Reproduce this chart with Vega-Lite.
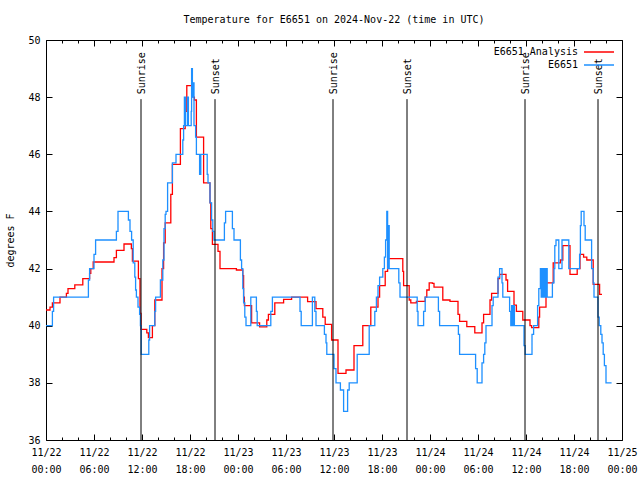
{
  "$schema": "https://vega.github.io/schema/vega-lite/v6.json",
  "width": 576,
  "height": 400,
  "autosize": "none",
  "padding": {"left": 46, "top": 40, "right": 18, "bottom": 40},
  "background": "white",
  "title": {"text": "Temperature for E6651 on 2024-Nov-22 (time in UTC)", "font": "DejaVu Sans Mono", "fontSize": 10, "fontWeight": "normal", "anchor": "middle", "offset": 10, "color": "black"},
  "config": {"view": {"stroke": "black", "strokeWidth": 1}, "font": "DejaVu Sans Mono"},
  "datasets": {
    "red": [
      {"h":0,"v":40.55},{"h":0.5,"v":40.65},{"h":0.8,"v":40.8},{"h":1.75,"v":41.0},{"h":2.55,"v":41.13},{"h":2.75,"v":41.3},{"h":3.6,"v":41.43},{"h":4.6,"v":41.65},{"h":5.45,"v":41.83},{"h":5.6,"v":42.0},{"h":5.9,"v":42.23},{"h":8.5,"v":42.38},{"h":8.8,"v":42.64},{"h":9.75,"v":42.86},{"h":10.67,"v":42.7},{"h":10.8,"v":42.26},{"h":11.55,"v":41.65},{"h":11.75,"v":40.43},{"h":11.875,"v":39.87},{"h":12.6,"v":39.75},{"h":12.8,"v":39.58},{"h":13.3,"v":40.0},{"h":13.6,"v":40.9},{"h":14.5,"v":42.0},{"h":14.7,"v":42.9},{"h":14.9,"v":43.6},{"h":15.6,"v":44.6},{"h":15.8,"v":45.65},{"h":16.8,"v":46.9},{"h":17.4,"v":47.5},{"h":17.6,"v":48.4},{"h":18.4,"v":48.0},{"h":18.55,"v":47.9},{"h":18.8,"v":46.6},{"h":19.7,"v":45.0},{"h":20.5,"v":44.3},{"h":20.6,"v":43.4},{"h":20.8,"v":42.85},{"h":21.5,"v":42.6},{"h":21.75,"v":42.0},{"h":23.8,"v":41.95},{"h":24.6,"v":41.75},{"h":24.7,"v":41.0},{"h":24.8,"v":40.7},{"h":25.7,"v":40.1},{"h":26.7,"v":39.96},{"h":27.6,"v":40.2},{"h":27.8,"v":40.4},{"h":28.6,"v":40.8},{"h":29.7,"v":40.92},{"h":30.7,"v":41.0},{"h":32.7,"v":40.84},{"h":33.75,"v":40.6},{"h":34.6,"v":40.3},{"h":34.9,"v":40.05},{"h":35.7,"v":39.5},{"h":36.5,"v":38.33},{"h":37.5,"v":38.45},{"h":38.5,"v":39.3},{"h":39.6,"v":40.0},{"h":40.6,"v":40.65},{"h":41.5,"v":41.0},{"h":41.7,"v":41.4},{"h":42.4,"v":41.9},{"h":42.7,"v":42.35},{"h":44.6,"v":41.9},{"h":44.7,"v":41.4},{"h":45.4,"v":40.9},{"h":45.6,"v":40.8},{"h":46.3,"v":40.85},{"h":47.4,"v":41.0},{"h":47.6,"v":41.25},{"h":47.9,"v":41.5},{"h":48.3,"v":41.48},{"h":48.5,"v":41.35},{"h":49.6,"v":40.9},{"h":50.5,"v":40.85},{"h":51.5,"v":40.4},{"h":51.7,"v":40.15},{"h":52.6,"v":39.97},{"h":53.6,"v":39.75},{"h":54.5,"v":40.1},{"h":54.7,"v":40.4},{"h":55.5,"v":40.9},{"h":55.7,"v":41.13},{"h":56.5,"v":41.65},{"h":56.7,"v":41.8},{"h":57.5,"v":41.6},{"h":57.7,"v":41.2},{"h":58.5,"v":40.72},{"h":58.8,"v":40.5},{"h":59.6,"v":40.2},{"h":60.5,"v":40.0},{"h":60.7,"v":39.93},{"h":61.6,"v":40.3},{"h":61.7,"v":40.65},{"h":62.5,"v":41.5},{"h":63.4,"v":42.2},{"h":64.3,"v":42.3},{"h":64.6,"v":42.8},{"h":65.5,"v":41.8},{"h":66.4,"v":42.0},{"h":66.75,"v":42.5},{"h":67.2,"v":42.4},{"h":67.6,"v":42.3},{"h":68.4,"v":41.45},{"h":69.2,"v":41.1},{"h":69.5,"v":41.1}
    ],
    "blue": [
      {"h":0,"v":40},{"h":0.8,"v":40.5},{"h":0.95,"v":41},{"h":5.3,"v":41.6},{"h":5.45,"v":42},{"h":6.0,"v":42.5},{"h":6.2,"v":43},{"h":8.8,"v":43.3},{"h":9.0,"v":44},{"h":10.3,"v":43.7},{"h":10.5,"v":43.3},{"h":10.7,"v":43},{"h":10.9,"v":42.2},{"h":11.1,"v":41.7},{"h":11.2,"v":41.25},{"h":11.3,"v":41},{"h":11.5,"v":40.65},{"h":11.7,"v":40.4},{"h":11.8,"v":40},{"h":11.9,"v":39},{"h":12.85,"v":39.5},{"h":12.95,"v":40},{"h":13.6,"v":40.5},{"h":13.7,"v":41},{"h":14.3,"v":41.6},{"h":14.6,"v":42.3},{"h":14.75,"v":43.4},{"h":14.9,"v":43.9},{"h":15.0,"v":44},{"h":15.2,"v":45},{"h":15.8,"v":45.7},{"h":16.25,"v":46},{"h":17.1,"v":46.5},{"h":17.2,"v":47},{"h":17.3,"v":48},{"h":17.45,"v":47},{"h":17.7,"v":48},{"h":17.8,"v":47},{"h":18.15,"v":47.5},{"h":18.2,"v":49},{"h":18.3,"v":48},{"h":18.4,"v":48.5},{"h":18.5,"v":47},{"h":18.7,"v":46.6},{"h":18.8,"v":46},{"h":19.2,"v":45.3},{"h":19.35,"v":46},{"h":20.15,"v":45.3},{"h":20.25,"v":45},{"h":20.5,"v":44.3},{"h":20.7,"v":43.7},{"h":20.85,"v":43.3},{"h":21.0,"v":43},{"h":22.3,"v":43.6},{"h":22.45,"v":44},{"h":23.3,"v":43.4},{"h":23.5,"v":43},{"h":24.3,"v":42.3},{"h":24.45,"v":42},{"h":24.6,"v":41.3},{"h":24.7,"v":40.8},{"h":24.85,"v":40.3},{"h":25.0,"v":40},{"h":25.6,"v":41},{"h":26.3,"v":40.5},{"h":26.4,"v":40},{"h":28.1,"v":40.5},{"h":28.3,"v":41},{"h":31.75,"v":40.5},{"h":31.9,"v":40},{"h":33.3,"v":41},{"h":33.6,"v":40.5},{"h":33.75,"v":40},{"h":34.8,"v":39.7},{"h":35.0,"v":39.4},{"h":35.1,"v":39},{"h":36.0,"v":38.5},{"h":36.25,"v":38},{"h":36.8,"v":37.75},{"h":37.2,"v":37},{"h":37.7,"v":37.75},{"h":37.9,"v":38},{"h":38.9,"v":39},{"h":40.4,"v":40},{"h":41.1,"v":40.5},{"h":41.3,"v":41},{"h":41.5,"v":41.4},{"h":41.7,"v":41.7},{"h":42.1,"v":42},{"h":42.3,"v":42.4},{"h":42.45,"v":43},{"h":42.6,"v":44},{"h":42.7,"v":42},{"h":42.8,"v":43.5},{"h":42.9,"v":42},{"h":44.1,"v":41.5},{"h":44.25,"v":41},{"h":46.4,"v":40.5},{"h":46.5,"v":40},{"h":47.2,"v":40.5},{"h":47.4,"v":41},{"h":49.05,"v":40.5},{"h":49.2,"v":40},{"h":51.55,"v":39.7},{"h":51.7,"v":39},{"h":53.7,"v":38.5},{"h":53.9,"v":38},{"h":54.5,"v":38.7},{"h":54.7,"v":39},{"h":54.85,"v":39.4},{"h":55.0,"v":40},{"h":55.75,"v":40.7},{"h":55.9,"v":41},{"h":56.5,"v":41.7},{"h":56.7,"v":42},{"h":57.0,"v":41.5},{"h":57.1,"v":41},{"h":57.95,"v":40.5},{"h":58.1,"v":40},{"h":58.2,"v":40.7},{"h":58.3,"v":40},{"h":58.45,"v":40.7},{"h":58.55,"v":40},{"h":59.75,"v":39.3},{"h":59.9,"v":39},{"h":60.75,"v":39.7},{"h":60.95,"v":40},{"h":61.45,"v":40.7},{"h":61.6,"v":41.3},{"h":61.8,"v":42},{"h":61.9,"v":41},{"h":62.05,"v":42},{"h":62.15,"v":41},{"h":62.3,"v":42},{"h":62.4,"v":41},{"h":62.55,"v":42},{"h":62.65,"v":41},{"h":63.3,"v":41.5},{"h":63.5,"v":42},{"h":63.6,"v":42.8},{"h":63.75,"v":43},{"h":64.1,"v":42},{"h":64.5,"v":43},{"h":65.35,"v":42},{"h":66.7,"v":42.5},{"h":66.8,"v":43.5},{"h":66.9,"v":44},{"h":67.25,"v":43.5},{"h":67.4,"v":43},{"h":68.2,"v":42},{"h":68.4,"v":41.5},{"h":68.5,"v":41},{"h":69.0,"v":40.3},{"h":69.15,"v":40},{"h":69.35,"v":39.7},{"h":69.5,"v":39.4},{"h":69.65,"v":39.0},{"h":69.8,"v":38.6},{"h":70.0,"v":38},{"h":70.7,"v":38}
    ],
    "events": [
      {"h": 11.875, "label": "Sunrise"},
      {"h": 21.125, "label": "Sunset"},
      {"h": 35.875, "label": "Sunrise"},
      {"h": 45.125, "label": "Sunset"},
      {"h": 59.875, "label": "Sunrise"},
      {"h": 69.0, "label": "Sunset"}
    ]
  },
  "resolve": {"axis": {"x": "independent", "y": "independent"}},
  "layer": [
    {
      "data": {"name": "red"},
      "transform": [{"calculate": "'E6651 Analysis'", "as": "s"}],
      "mark": {"type": "line", "interpolate": "step-after", "strokeWidth": 1.3},
      "encoding": {
        "x": {"field": "h", "type": "quantitative", "scale": {"domain": [0, 72], "nice": false, "zero": false},
          "axis": {"orient": "bottom", "values": [0,2,4,6,8,10,12,14,16,18,20,22,24,26,28,30,32,34,36,38,40,42,44,46,48,50,52,54,56,58,60,62,64,66,68,70,72], "title": null, "domain": false, "grid": false, "tickColor": "black", "tickWidth": 1,
            "tickSize": {"condition": {"test": "datum.value % 6 === 0", "value": -6}, "value": -3},
            "labelExpr": "datum.value % 6 === 0 ? ['11/' + (22 + floor(datum.value / 24)), (datum.value % 24 < 10 ? '0' : '') + (datum.value % 24) + ':00'] : ''",
            "labelPadding": 13, "labelFont": "DejaVu Sans Mono", "labelFontSize": 10, "labelColor": "black", "labelLineHeight": 17, "labelBaseline": "top", "labelOverlap": false, "labelFlush": false}},
        "y": {"field": "v", "type": "quantitative", "scale": {"domain": [36, 50], "nice": false, "zero": false},
          "axis": {"orient": "left", "values": [36,38,40,42,44,46,48,50], "title": "degrees F", "domain": false, "grid": false, "tickColor": "black", "tickSize": -6, "labelPadding": 12, "labelFont": "DejaVu Sans Mono", "labelFontSize": 10, "labelColor": "black",
            "titleFont": "DejaVu Sans Mono", "titleFontSize": 10, "titleFontWeight": "normal", "titleColor": "black", "titleX": -36, "titleY": 200, "titleAngle": 270, "titleAlign": "center", "titleBaseline": "middle"}},
        "color": {"field": "s", "type": "nominal", "scale": {"domain": ["E6651 Analysis", "E6651"], "range": ["#ff0000", "#1e90ff"]},
          "legend": {"orient": "none", "legendX": 547, "legendY": 6, "title": null, "symbolType": "M-3,0H3", "symbolSize": 100, "symbolStrokeWidth": 1.5, "labelAlign": "right", "labelOffset": -27, "labelFont": "DejaVu Sans Mono", "labelFontSize": 10, "labelColor": "black", "rowPadding": 2, "padding": 0}}
      }
    },
    {
      "data": {"name": "blue"},
      "transform": [{"calculate": "'E6651'", "as": "s"}],
      "mark": {"type": "line", "interpolate": "step-after", "strokeWidth": 1.3},
      "encoding": {
        "x": {"field": "h", "type": "quantitative", "axis": null},
        "y": {"field": "v", "type": "quantitative", "axis": null},
        "color": {"field": "s", "type": "nominal"}
      }
    },
    {
      "data": {"name": "events"},
      "mark": {"type": "rule", "color": "black", "strokeWidth": 1},
      "encoding": {
        "x": {"field": "h", "type": "quantitative",
          "axis": {"orient": "top", "values": [0,2,4,6,8,10,12,14,16,18,20,22,24,26,28,30,32,34,36,38,40,42,44,46,48,50,52,54,56,58,60,62,64,66,68,70,72], "title": null, "labels": false, "domain": false, "grid": false, "tickColor": "black",
            "tickSize": {"condition": {"test": "datum.value % 6 === 0", "value": -6}, "value": -3}}},
        "y": {"datum": 36, "type": "quantitative",
          "axis": {"orient": "right", "values": [36,38,40,42,44,46,48,50], "title": null, "labels": false, "domain": false, "grid": false, "tickColor": "black", "tickSize": -6}},
        "y2": {"datum": 47.93}
      }
    },
    {
      "data": {"name": "events"},
      "mark": {"type": "text", "angle": 270, "align": "left", "baseline": "middle", "font": "DejaVu Sans Mono", "fontSize": 10, "color": "black", "dy": 1},
      "encoding": {
        "x": {"field": "h", "type": "quantitative", "axis": null},
        "y": {"datum": 48.1, "type": "quantitative", "axis": null},
        "text": {"field": "label"}
      }
    }
  ]
}
